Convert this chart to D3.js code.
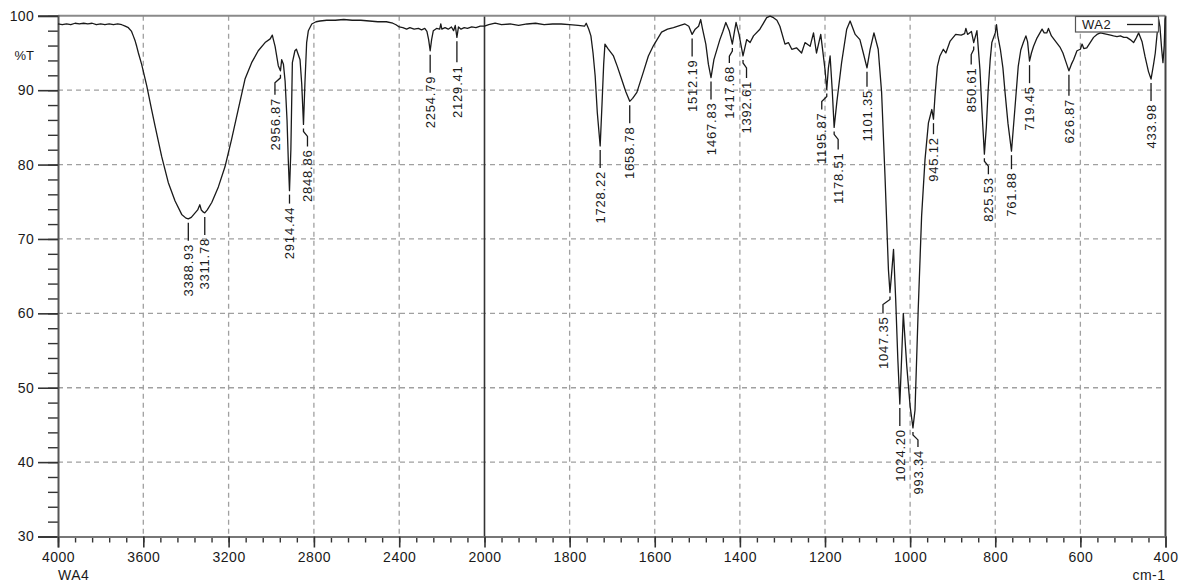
<!DOCTYPE html>
<html>
<head>
<meta charset="utf-8">
<script src="https://cdn.jsdelivr.net/npm/d3@7"></script>
<style>
  html, body { margin: 0; padding: 0; background: #fff; }
  svg { display: block; font-family: 'Liberation Sans', Arial, sans-serif; }
</style>
</head>
<body>
<svg id="chart" width="1180" height="583"></svg>
<script>
// Spectrum (cm-1, %T)
const wavenumber = [
  4000, 3980, 3960, 3940, 3920, 3900, 3880, 3860, 3840, 3820, 3800, 3780, 3760, 3740, 3720, 3701,
  3685, 3670, 3655, 3647, 3638, 3631, 3623, 3608, 3584, 3561, 3545, 3514, 3483, 3451, 3420, 3400,
  3388.93, 3375, 3360, 3345, 3335, 3328, 3318, 3311.78, 3300, 3279, 3248, 3217, 3186, 3155, 3123,
  3092, 3061, 3029, 3005, 2995, 2990, 2982, 2967, 2956.87, 2951, 2943, 2935, 2926, 2920, 2914.44,
  2908, 2901, 2889, 2882, 2876, 2865, 2857, 2848.86, 2842, 2834, 2826, 2810, 2790, 2771, 2740,
  2700, 2660, 2620, 2580, 2540, 2500, 2460, 2430, 2415, 2400, 2383, 2365, 2350, 2330, 2310, 2295,
  2280, 2270, 2262, 2254.79, 2248, 2240, 2225, 2210, 2205, 2200, 2185, 2170, 2155, 2145, 2137,
  2129.41, 2122, 2110, 2095, 2080, 2060, 2040, 2020, 2000,
  1990, 1975, 1960, 1940, 1920, 1900, 1880, 1860, 1840, 1820, 1800, 1780, 1765, 1761, 1755, 1750,
  1745, 1740, 1735, 1728.22, 1724, 1720, 1717, 1710, 1697, 1688, 1678, 1668, 1658.78, 1652, 1642,
  1627, 1615, 1603, 1584, 1570, 1556, 1540, 1529, 1520, 1512.19, 1505, 1497, 1492, 1488, 1480,
  1474, 1467.83, 1461, 1447, 1440, 1433, 1425, 1417.68, 1413, 1409, 1402, 1392.61, 1384, 1376,
  1368, 1353, 1337, 1329, 1321, 1313, 1306, 1294, 1286, 1278, 1267, 1255, 1247, 1235, 1227, 1220,
  1210, 1200, 1195.87, 1192, 1188, 1183, 1178.51, 1172, 1161, 1149, 1141, 1129, 1118, 1110,
  1101.35, 1094, 1085, 1075, 1067, 1059, 1051, 1047.35, 1044, 1039, 1034, 1029, 1024.20, 1020,
  1016, 1008, 1000, 993.34, 988.5, 981, 973, 965, 957, 953, 949, 945.12, 941.6, 936, 930, 922,
  916, 906, 893, 880, 872, 869, 865, 856, 850.61, 843, 836, 831, 825.53, 821, 817, 812, 808, 800,
  797, 794, 788, 782, 777, 770, 761.88, 754, 746, 740, 734, 728, 724, 719.45, 715, 710, 702, 695,
  690, 685, 679, 675, 668, 656, 648, 641, 634, 626.87, 621, 616, 608, 600, 596, 592, 585, 577, 569,
  561, 553, 545, 537, 529, 522, 514, 506, 498, 491, 483, 475, 469, 463, 455, 448, 440, 433.98,
  428, 424, 419, 416, 413, 409, 406, 403, 401, 400
];
const transmittance = [
  98.9, 98.8, 98.9, 98.8, 99.0, 98.9, 99.0, 98.9, 99.0, 98.8, 98.9, 98.8, 98.9, 98.8, 98.9, 98.8,
  98.6, 98.4, 97.9, 97.3, 96.6, 95.9, 95.0, 93.5, 90.6, 87.4, 85.2, 81.1, 77.6, 75.1, 73.3, 72.8,
  72.7, 72.9, 73.4, 73.9, 74.6, 73.9, 73.6, 73.5, 73.9, 74.9, 77.0, 79.7, 83.4, 87.4, 91.5,
  93.7, 95.3, 96.4, 96.9, 97.4, 96.8, 95.9, 93.3, 92.6, 94.1, 93.5, 91.2, 86.0, 80.5, 76.5,
  82.0, 93.7, 95.3, 95.5, 95.0, 94.1, 90.8, 85.4, 91.0, 96.4, 98.0, 98.9, 99.2, 99.3, 99.4,
  99.4, 99.5, 99.4, 99.4, 99.3, 99.2, 99.2, 99.0, 98.8, 98.5, 98.4, 98.2, 98.4, 98.2, 98.3, 98.1,
  98.3, 97.9, 96.8, 95.3, 96.8, 98.0, 98.3, 98.2, 98.9, 98.2, 98.4, 98.2, 98.5, 98.0, 98.7,
  97.1, 98.5, 98.2, 98.4, 98.3, 98.5, 98.4, 98.6, 98.6,
  98.8, 99.0, 98.8, 98.9, 98.7, 98.9, 99.0, 98.8, 98.9, 98.9, 98.8, 98.7, 98.6, 99.0, 98.2, 97.3,
  95.0, 91.9, 87.0, 82.5, 88.0, 93.5, 96.2, 95.6, 94.6, 93.2, 91.5, 89.8, 88.5, 88.9, 89.7,
  92.4, 94.6, 96.0, 97.8, 98.2, 98.4, 98.7, 98.9, 98.6, 97.5, 98.2, 98.6, 99.5, 98.3, 96.2,
  93.5, 91.7, 94.1, 96.8, 97.9, 99.1, 98.0, 96.2, 97.8, 99.1, 97.5, 94.6, 96.8, 96.4,
  97.3, 98.2, 99.75, 99.95, 99.75, 99.4, 98.6, 96.2, 96.4, 95.5, 95.7, 95.0, 96.4, 95.9, 97.7, 95.0,
  97.5, 92.8, 90.1, 93.0, 94.6, 90.0, 85.0, 88.5, 93.7, 98.2, 99.3, 97.5, 96.8, 95.0,
  93.0, 95.5, 97.7, 95.5, 89.7, 78.4, 65.9, 62.8, 65.0, 68.6, 62.0, 54.0, 47.8, 54.0,
  60.0, 53.0, 47.5, 44.6, 47.0, 60.5, 73.1, 80.7, 85.6, 86.5, 87.4, 86.1, 89.2, 93.2, 94.6, 95.5,
  95.0, 96.6, 97.5, 97.4, 97.6, 98.3, 97.5, 97.9, 96.4, 98.0, 92.8, 87.0, 81.4, 85.0, 89.7, 94.0, 96.4, 97.7,
  98.8, 97.3, 95.5, 93.0, 89.7, 85.5, 81.8, 87.4, 93.2, 95.4, 96.4, 97.3, 96.5, 93.9, 95.0, 95.9, 97.0, 97.7,
  98.2, 97.7, 97.7, 98.3, 97.3, 96.4, 95.8, 95.0, 93.8, 92.6, 93.5, 94.1, 95.3, 95.5, 96.2, 95.6, 95.7, 96.4, 97.1,
  97.5, 97.7, 97.6, 97.5, 97.4, 97.3, 97.2, 97.3, 97.1, 97.1, 96.8, 96.4, 97.0, 97.7, 96.5, 94.5, 92.5, 91.5,
  93.5, 95.0, 98.0, 99.5, 98.5, 95.5, 93.7, 96.0, 99.5, 99.8
];

// Peak picks printed on the chart
const peakWavenumber = [
  3388.93, 3311.78, 2956.87, 2914.44, 2848.86, 2254.79, 2129.41, 1728.22, 1658.78, 1512.19,
  1467.83, 1417.68, 1392.61, 1195.87, 1178.51, 1101.35, 1047.35, 1024.20, 993.34, 945.12,
  850.61, 825.53, 761.88, 719.45, 626.87, 433.98
];
const peakLabels = [
  '3388.93', '3311.78', '2956.87', '2914.44', '2848.86', '2254.79', '2129.41', '1728.22', '1658.78', '1512.19',
  '1467.83', '1417.68', '1392.61', '1195.87', '1178.51', '1101.35', '1047.35', '1024.20', '993.34', '945.12',
  '850.61', '825.53', '761.88', '719.45', '626.87', '433.98'
];

// Axis ticks
const xTicksMajor = [4000, 3600, 3200, 2800, 2400, 2000, 1800, 1600, 1400, 1200, 1000, 800, 600, 400];
const xTicksMinor = d3.range(4000, 2000, -80).concat(d3.range(2000, 399, -40));
const yTicksMajor = [100, 90, 80, 70, 60, 50, 40, 30];
const yTicksMinor = d3.range(30, 101, 2);
const xGrid = [3600, 3200, 2800, 2400, 1800, 1600, 1400, 1200, 1000, 800, 600];
const yGrid = [90, 80, 70, 60, 50, 40];

// Label nudges so the picks don't collide (dx: sideways shift, lead: gap below curve)
const labelLayout = {
  '2956.87': { dx: -5.5, lead: 27 },
  '2914.44': { dx: 0, lead: 16 },
  '2848.86': { dx: 4, lead: 25 },
  '2129.41': { dx: 0, lead: 28 },
  '1417.68': { dx: -3, lead: 22 },
  '1392.61': { dx: 3.5, lead: 25 },
  '1195.87': { dx: -5, lead: 23 },
  '1178.51': { dx: 4, lead: 25 },
  '1101.35': { dx: 0, lead: 22 },
  '1047.35': { dx: -7, lead: 24 },
  '993.34': { dx: 5, lead: 22 },
  '945.12': { dx: 0, lead: 18 },
  '850.61': { dx: -2.5, lead: 25 },
  '825.53': { dx: 4, lead: 23 },
  '761.88': { dx: 0, lead: 21 },
  '626.87': { dx: 0, lead: 28 }
};

const svg = d3.select('#chart');

// Split scale: 4000-2000 is compressed, 2000-400 expanded
const x = d3.scaleLinear()
  .domain([4000, 2000, 400])
  .range([58, 484.5, 1165.5]);

const y = d3.scaleLinear()
  .domain([30, 100])
  .range([536.5, 15.8]);

// Grid
svg.append('g')
  .selectAll('line')
  .data(yGrid)
  .enter()
  .append('line')
  .attr('x1', x(4000))
  .attr('x2', x(400))
  .attr('y1', d => y(d))
  .attr('y2', d => y(d))
  .attr('stroke', '#a0a0a0')
  .attr('stroke-width', 1.3)
  .attr('stroke-dasharray', '5,4');

svg.append('g')
  .selectAll('line')
  .data(xGrid)
  .enter()
  .append('line')
  .attr('x1', d => x(d))
  .attr('x2', d => x(d))
  .attr('y1', y(100))
  .attr('y2', y(30))
  .attr('stroke', '#a0a0a0')
  .attr('stroke-width', 1.3)
  .attr('stroke-dasharray', '5,4');

// Scale break at 2000
svg.append('line')
  .attr('x1', x(2000))
  .attr('x2', x(2000))
  .attr('y1', y(100))
  .attr('y2', y(30))
  .attr('stroke', '#333')
  .attr('stroke-width', 1.6);

// Frame top and right
svg.append('line')
  .attr('x1', x(4000))
  .attr('x2', x(400))
  .attr('y1', y(100))
  .attr('y2', y(100))
  .attr('stroke', '#8a8a8a')
  .attr('stroke-width', 2);

svg.append('line')
  .attr('x1', x(400))
  .attr('x2', x(400))
  .attr('y1', y(100))
  .attr('y2', y(30))
  .attr('stroke', '#444')
  .attr('stroke-width', 2);

// Y axis
const yMinor = svg.append('g')
  .attr('transform', `translate(${x(4000)},0)`)
  .call(d3.axisLeft(y).tickValues(yTicksMinor).tickSize(10).tickFormat(''));
yMinor.select('.domain').remove();
yMinor.selectAll('line').attr('stroke', '#333').attr('stroke-width', 1.4);

const yAxis = svg.append('g')
  .attr('transform', `translate(${x(4000)},0)`)
  .call(d3.axisLeft(y).tickValues(yTicksMajor).tickSize(20).tickPadding(4));
yAxis.select('.domain').attr('stroke', '#555').attr('stroke-width', 2);
yAxis.selectAll('line').attr('stroke', '#333').attr('stroke-width', 1.6);
yAxis.selectAll('text')
  .style('font-size', '14px')
  .style('letter-spacing', '0.3px')
  .attr('fill', '#1a1a1a');

// X axis
const xMinor = svg.append('g')
  .attr('transform', `translate(0,${y(30)})`)
  .call(d3.axisBottom(x).tickValues(xTicksMinor).tickSize(6).tickFormat(''));
xMinor.select('.domain').remove();
xMinor.selectAll('line').attr('stroke', '#333').attr('stroke-width', 1.4);

const xAxis = svg.append('g')
  .attr('transform', `translate(0,${y(30)})`)
  .call(d3.axisBottom(x).tickValues(xTicksMajor).tickSize(11).tickPadding(5).tickFormat(d3.format('d')));
xAxis.select('.domain').attr('stroke', '#777').attr('stroke-width', 2);
xAxis.selectAll('line').attr('stroke', '#333').attr('stroke-width', 1.6);
xAxis.selectAll('text')
  .style('font-size', '14px')
  .style('letter-spacing', '0.5px')
  .attr('fill', '#1a1a1a');

// Axis captions
svg.append('text')
  .attr('x', 34)
  .attr('y', 60)
  .attr('text-anchor', 'end')
  .style('font-size', '13px')
  .attr('fill', '#1a1a1a')
  .text('%T');

svg.append('text')
  .attr('x', x(4000))
  .attr('y', 580)
  .style('font-size', '14px')
  .style('letter-spacing', '0.5px')
  .attr('fill', '#1a1a1a')
  .text('WA4');

svg.append('text')
  .attr('x', x(400))
  .attr('y', 580)
  .attr('text-anchor', 'end')
  .style('font-size', '14px')
  .style('letter-spacing', '0.5px')
  .attr('fill', '#1a1a1a')
  .text('cm-1');

// Spectrum
const points = wavenumber.map((w, i) => [w, transmittance[i]]);
const line = d3.line()
  .x(d => x(d[0]))
  .y(d => y(d[1]));

svg.append('path')
  .datum(points)
  .attr('d', line)
  .attr('fill', 'none')
  .attr('stroke', '#1a1a1a')
  .attr('stroke-width', 1.3)
  .attr('stroke-linejoin', 'round');

// Peak picks
const picks = svg.append('g');
peakWavenumber.forEach((w, i) => {
  const label = peakLabels[i];
  const idx = wavenumber.indexOf(w);
  const t = transmittance[idx];
  const layout = labelLayout[label] || { dx: 0, lead: 25 };
  const x0 = x(w);
  const y0 = y(t);
  const textTop = y0 + layout.lead;
  const x1 = x0 + layout.dx;

  const path = d3.path();
  path.moveTo(x0, y0 + 4);
  if (layout.dx !== 0) {
    path.lineTo(x0, y0 + 7);
    path.lineTo(x1, y0 + 12);
  }
  path.lineTo(x1, textTop - 3);

  picks.append('path')
    .attr('d', path.toString())
    .attr('fill', 'none')
    .attr('stroke', '#1a1a1a')
    .attr('stroke-width', 1.3);

  picks.append('text')
    .attr('transform', `translate(${x1},${textTop}) rotate(-90)`)
    .attr('text-anchor', 'end')
    .attr('dy', '0.36em')
    .style('font-size', '13px')
    .style('letter-spacing', '0.8px')
    .attr('fill', '#1a1a1a')
    .text(label);
});

// Legend
const legend = svg.append('g');
legend.append('rect')
  .attr('x', 1075.5)
  .attr('y', 16.5)
  .attr('width', 83)
  .attr('height', 15.5)
  .attr('fill', '#fff')
  .attr('stroke', '#555')
  .attr('stroke-width', 1.2);
legend.append('text')
  .attr('x', 1082)
  .attr('y', 29)
  .style('font-size', '13px')
  .style('letter-spacing', '0.5px')
  .attr('fill', '#1a1a1a')
  .text('WA2');
legend.append('line')
  .attr('x1', 1127)
  .attr('x2', 1153)
  .attr('y1', 24.5)
  .attr('y2', 24.5)
  .attr('stroke', '#1a1a1a')
  .attr('stroke-width', 1.3);
</script>
</body>
</html>
